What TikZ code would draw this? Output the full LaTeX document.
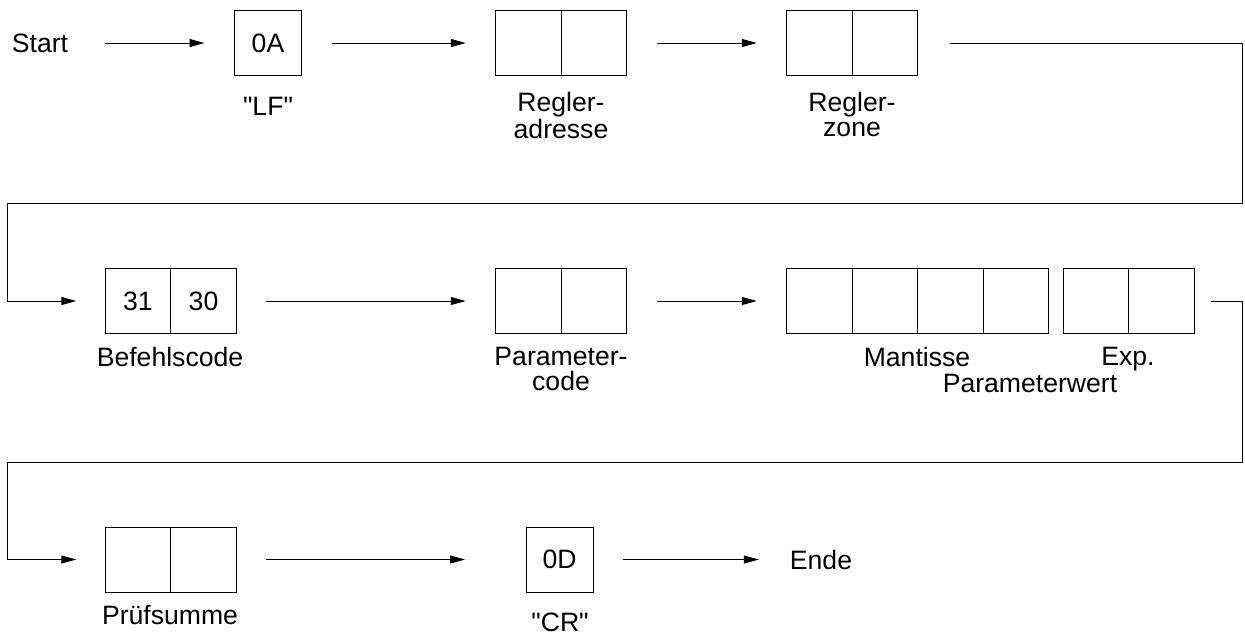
\documentclass[tikz,border=0pt]{standalone}
\usepackage{fontspec}
\setmainfont{Liberation Sans}[Ligatures=TeXOff]
\usetikzlibrary{arrows.meta,positioning}
\tikzset{
	cell/.style={draw, outer sep=0pt, inner sep=0pt, minimum width=32.75pt, minimum height=32.5pt},
	caption/.style={anchor=north, inner sep=0pt, align=center},
	flow/.style={-{Triangle[length=7.5pt,width=4pt]}, shorten <=15pt, shorten >=15pt}
}
\begin{document}
\begin{tikzpicture}[x=0.5pt, y=-0.5pt, line width=0.5pt, font=\fontsize{13.3}{12.3}\selectfont]
	\useasboundingbox (0,0) rectangle (1245,634);
	% erste Zeile
	\node (start) at (40,43) {Start};
	\node[cell, minimum width=33.5pt] (lf) at (268,43) {0A};
	\node[cell] (adr1) at (528.5,43) {};
	\node[cell, right=0pt of adr1] (adr2) {};
	\node[cell] (zone1) at (819.5,43) {};
	\node[cell, right=0pt of zone1] (zone2) {};
	\node[caption] (lfcap) at (268,97) {"LF"};
	\node[caption] (adrcap) at (561,92) {Regler-\\adresse};
	\node[caption] (zonecap) at (852,92) {Regler-\\zone};
	% zweite Zeile
	\node[cell] (cmd1) at (138,301) {31};
	\node[cell, right=0pt of cmd1] (cmd2) {30};
	\node[cell] (par1) at (528.5,301) {};
	\node[cell, right=0pt of par1] (par2) {};
	\node[cell] (man1) at (819.5,301) {};
	\node[cell, right=0pt of man1] (man2) {};
	\node[cell, right=0pt of man2] (man3) {};
	\node[cell, right=0pt of man3] (man4) {};
	\node[cell] (exp1) at (1096,301) {};
	\node[cell, right=0pt of exp1] (exp2) {};
	\node[caption] (cmdcap) at (170,347) {Befehlscode};
	\node[caption] (parcap) at (561,347) {Parameter-\\code};
	\node[caption] (mancap) at (917,347) {Mantisse};
	\node[caption] (expcap) at (1128,347) {Exp.};
	\node[caption] (valcap) at (1030,374) {Parameterwert};
	% dritte Zeile
	\node[cell] (sum1) at (138,559.5) {};
	\node[cell, right=0pt of sum1] (sum2) {};
	\node[cell, minimum width=33.5pt] (cr) at (559.5,559.5) {0D};
	\node (ende) at (821,559.5) {Ende};
	\node[caption] (sumcap) at (170,605) {Prüfsumme};
	\node[caption] (crcap) at (560,612) {"CR"};
	% Umlenkpunkte
	\coordinate (r1) at (1242,43);
	\coordinate (r2) at (1242,203);
	\coordinate (l1) at (7,203);
	\coordinate (l2) at (7,301);
	\coordinate (r3) at (1242,301);
	\coordinate (r4) at (1242,462);
	\coordinate (l3) at (7,462);
	\coordinate (l4) at (7,559.5);
	\draw[flow] (start) -- (lf);
	\draw[flow] (lf) -- (adr1);
	\draw[flow] (adr2) -- (zone1);
	\draw[flow, shorten <=16pt, shorten >=14.5pt] (zone2) -- (r1) -- (r2) -- (l1) -- (l2) -- (cmd1);
	\draw[flow] (cmd2) -- (par1);
	\draw[flow] (par2) -- (man1);
	\draw[flow, shorten <=8.5pt, shorten >=14.5pt] (exp2) -- (r3) -- (r4) -- (l3) -- (l4) -- (sum1);
	\draw[flow, shorten >=30.5pt] (sum2) -- (cr);
	\draw[flow, shorten >=12pt] (cr) -- (ende);
\end{tikzpicture}
\end{document}
